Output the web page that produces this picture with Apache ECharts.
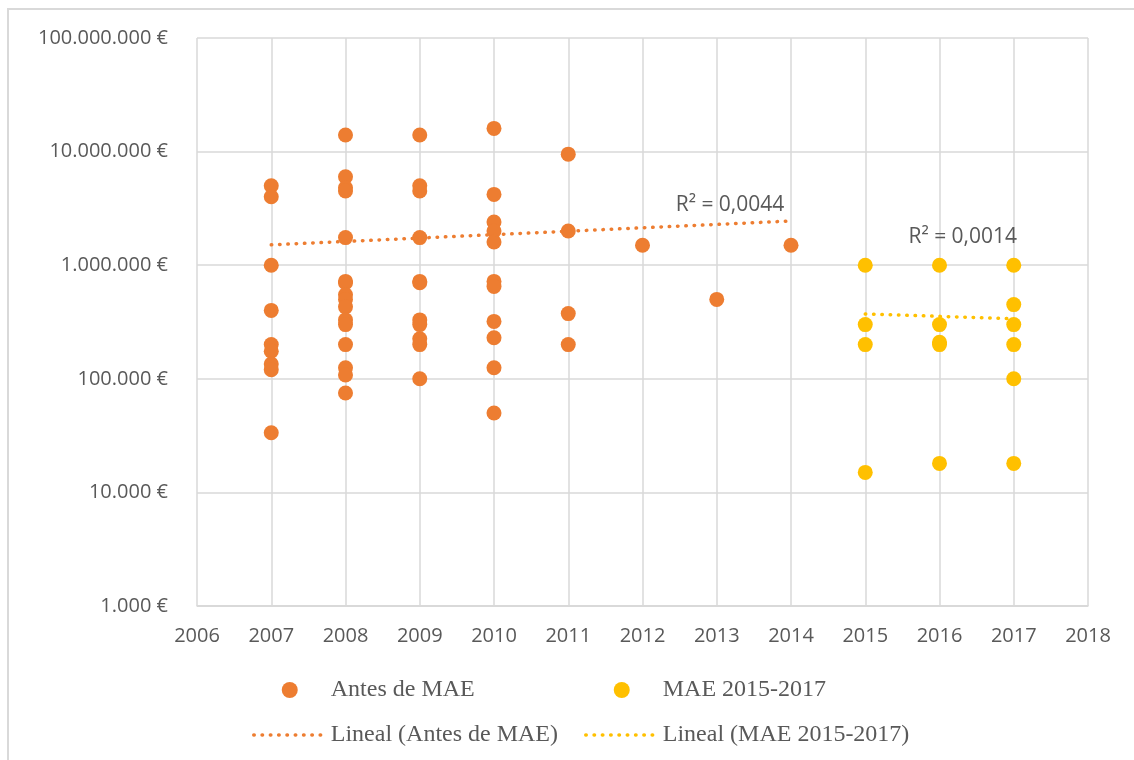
<!DOCTYPE html>
<html>
<head>
<meta charset="utf-8">
<script src="https://cdn.jsdelivr.net/npm/echarts@6/dist/echarts.min.js"></script>
<style>
  html, body { margin: 0; padding: 0; background: #fff; }
  #frame {
    position: absolute; left: 7px; top: 8px; width: 1140px; height: 770px;
    border-top: 2px solid #d9d9d9; border-left: 2px solid #d9d9d9;
  }
  #chart { position: absolute; left: 0; top: 0; width: 1134px; height: 760px; }
</style>
</head>
<body>
<div id="frame"></div>
<div id="chart"></div>
<script>
// Proyectos antes del MAE (2007-2014)
const antesYears = [2007, 2008, 2009, 2010, 2011, 2012, 2013, 2014]
const antesValues = [
  [5000000, 4000000, 1000000, 400000, 200000, 175000, 135000, 120000, 33500],
  [14000000, 6000000, 4800000, 4500000, 1750000, 720000, 700000, 550000, 500000, 430000, 330000, 300000, 200000, 125000, 108000, 75000],
  [14000000, 5000000, 4500000, 1750000, 720000, 700000, 330000, 300000, 225000, 200000, 100000],
  [16000000, 4200000, 2400000, 2000000, 1600000, 720000, 650000, 320000, 230000, 125000, 50000],
  [9500000, 2000000, 375000, 200000],
  [1500000],
  [500000],
  [1500000]
]

// MAE 2015-2017
const maeYears = [2015, 2016, 2017]
const maeValues = [
  [1000000, 300000, 200000, 15000],
  [1000000, 300000, 210000, 200000, 18000],
  [1000000, 450000, 300000, 200000, 100000, 18000]
]

// extremos de las líneas de tendencia
const antesTrend = [[2007, 1510000], [2014, 2450000]]
const maeTrend = [[2015, 372000], [2017, 338000]]
const antesR2 = 'R² = 0,0044'
const maeR2 = 'R² = 0,0014'

const ORANGE = '#ED7D31'
const YELLOW = '#FFC000'
const TEXT = '#595959'
const GRID = '#d9d9d9'

const toPoints = (years, values) =>
  years.flatMap((y, i) => values[i].map(v => [y, v]))

const euro = v => String(Math.round(v)).replace(/\B(?=(\d{3})+(?!\d))/g, '.') + ' €'

const chart = echarts.init(document.getElementById('chart'))

const dotted = color => ({ color, width: 3.5, type: [0.5, 7.8], cap: 'round' })

const trendLine = (name, color, data, r2, offset) => ({
  name,
  type: 'line',
  data,
  symbol: 'none',
  silent: true,
  z: 3,
  lineStyle: dotted(color),
  itemStyle: { color },
  markPoint: {
    symbol: 'circle',
    symbolSize: 0,
    silent: true,
    data: [{
      coord: data[data.length - 1],
      label: {
        show: true,
        formatter: r2,
        position: 'inside',
        offset,
        color: TEXT,
        fontSize: 21,
        fontFamily: 'Open Sans'
      }
    }]
  }
})

const legendBase = {
  top: 678, orient: 'vertical', itemGap: 21, padding: 0,
  itemWidth: 72, itemHeight: 16, selectedMode: false,
  textStyle: { color: TEXT, fontSize: 24, fontFamily: 'Liberation Serif' }
}

chart.setOption({
  animation: false,
  grid: { left: 197, right: 46, top: 38, bottom: 154 },
  xAxis: {
    type: 'value',
    min: 2006,
    max: 2018,
    interval: 1,
    axisLine: { show: true, lineStyle: { color: GRID, width: 1.5 } },
    axisTick: { show: false },
    axisLabel: {
      formatter: v => String(v),
      color: TEXT, fontSize: 20, fontFamily: 'Open Sans', margin: 20
    },
    splitLine: { show: true, lineStyle: { color: GRID, width: 1.5 } }
  },
  yAxis: {
    type: 'log',
    logBase: 10,
    min: 1000,
    max: 100000000,
    axisLine: { show: false },
    axisTick: { show: false },
    axisLabel: {
      formatter: euro,
      color: TEXT, fontSize: 20, fontFamily: 'Open Sans', margin: 29
    },
    splitLine: { show: true, lineStyle: { color: GRID, width: 1.5 } }
  },
  legend: [
    Object.assign({}, legendBase, {
      left: 252,
      data: [
        { name: 'Antes de MAE', icon: 'circle' },
        { name: 'Lineal (Antes de MAE)', itemStyle: { opacity: 0 }, lineStyle: dotted(ORANGE) }
      ]
    }),
    Object.assign({}, legendBase, {
      left: 584,
      data: [
        { name: 'MAE 2015-2017', icon: 'circle' },
        { name: 'Lineal (MAE 2015-2017)', itemStyle: { opacity: 0 }, lineStyle: dotted(YELLOW) }
      ]
    })
  ],
  series: [
    {
      name: 'Antes de MAE',
      type: 'scatter',
      symbolSize: 15,
      itemStyle: { color: ORANGE, opacity: 1 },
      data: toPoints(antesYears, antesValues)
    },
    {
      name: 'MAE 2015-2017',
      type: 'scatter',
      symbolSize: 15,
      itemStyle: { color: YELLOW, opacity: 1 },
      data: toPoints(maeYears, maeValues)
    },
    trendLine('Lineal (Antes de MAE)', ORANGE, antesTrend, antesR2, [-61, -16]),
    trendLine('Lineal (MAE 2015-2017)', YELLOW, maeTrend, maeR2, [-51, -82])
  ]
})
</script>
</body>
</html>
